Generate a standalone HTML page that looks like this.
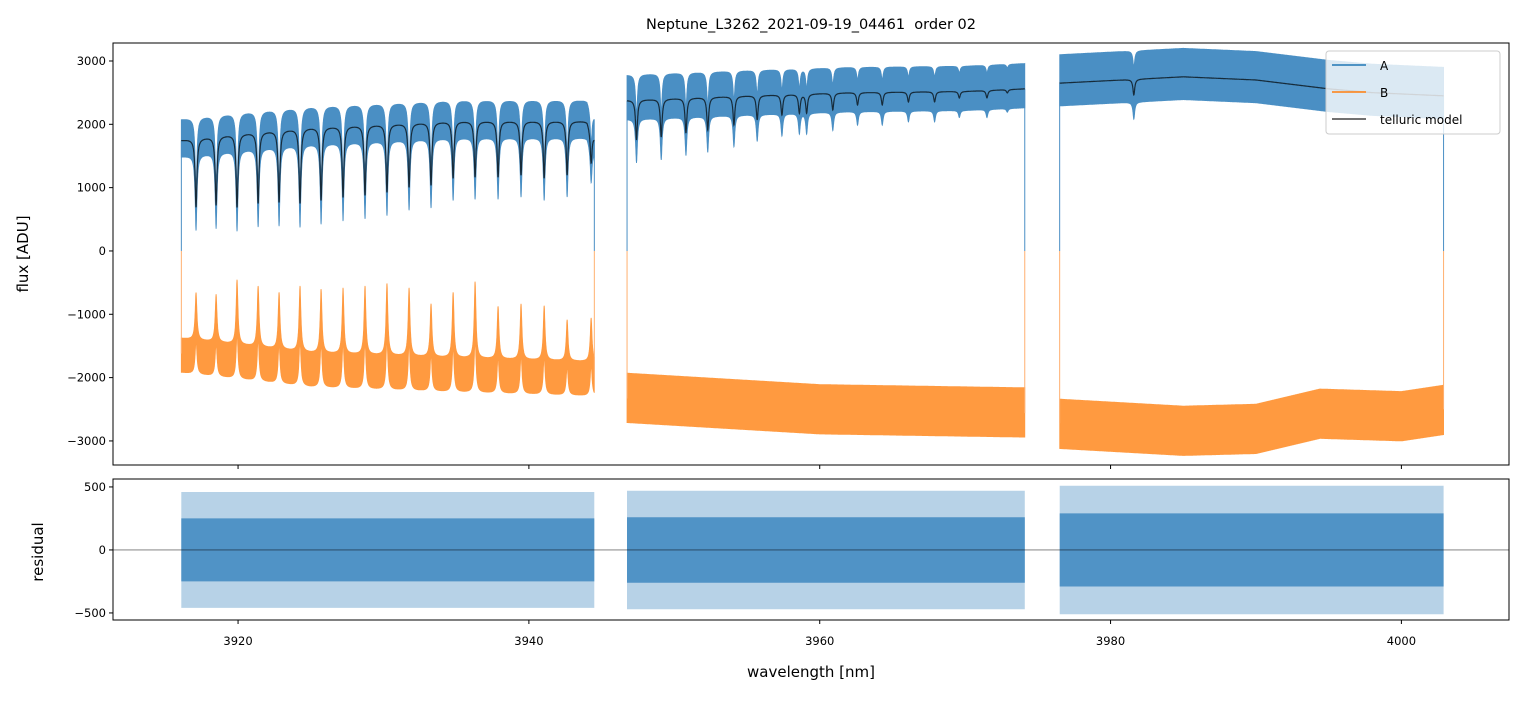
<!DOCTYPE html>
<html><head><meta charset="utf-8"><style>
body{margin:0;background:#fff;font-family:"Liberation Sans","DejaVu Sans",sans-serif}
svg text{font-family:"DejaVu Sans","Liberation Sans",sans-serif;fill:#000}
</style></head><body>
<svg id="chart" width="1523" height="696" viewBox="0 0 1523 696" xmlns="http://www.w3.org/2000/svg">
<rect width="1523" height="696" fill="#fff"/>
<g id="plot"></g>
</svg>
<script>
// ---- data ----
const segments = [[3916.1, 3944.5], [3946.75, 3974.1], [3976.5, 4002.9]];
const baseKnotsX = [[3916.1, 3920, 3925, 3930, 3935, 3944.0, 3944.5], [3946.75, 3955, 3962, 3970, 3974.1], [3976.5, 3985, 3990, 3995, 3998, 4002.9]];
const baseKnotsY = [[1750, 1850, 1950, 2000, 2050, 2050, 1800], [2380, 2450, 2500, 2520, 2560], [2650, 2750, 2700, 2560, 2500, 2450]];
const dipCenters = [
 [3917.11, 3918.49, 3919.93, 3921.38, 3922.82, 3924.26, 3925.71, 3927.22, 3928.73, 3930.24, 3931.76, 3933.27, 3934.79, 3936.30, 3937.88, 3939.46, 3941.05, 3942.63, 3944.28],
 [3947.4, 3949.1, 3950.8, 3952.3, 3954.1, 3955.7, 3957.4, 3958.6, 3959.1, 3960.9, 3962.6, 3964.3, 3966.1, 3967.9, 3969.6, 3971.5, 3972.9],
 [3981.6]
];
const dipMins = [
 [695, 727, 695, 758, 774, 758, 806, 853, 885, 932, 1011, 1043, 1153, 1169, 1169, 1200, 1153, 1200, 1390],
 [1754, 1801, 1864, 1911, 1991, 2070, 2148, 2180, 2180, 2228, 2306, 2306, 2354, 2354, 2417, 2417, 2496],
 [2464]
];
const aUpper = [330, 400, 450];
const aLower = [260, 300, 360];
const bKnotsX = [[3916.1, 3925, 3935, 3944.5], [3946.75, 3960, 3974.1], [3976.5, 3985, 3990, 3994.4, 4000, 4002.9]];
const bKnotsY = [[-1620, -1850, -1930, -1990], [-2330, -2510, -2560], [-2720, -2830, -2800, -2560, -2600, -2500]];
const bPeakTops = [-900, -930, -700, -800, -900, -800, -850, -830, -800, -760, -830, -1080, -900, -730, -1120, -1080, -1110, -1330, -1300];
const bUpper = [240, 400, 380];
const bLower = [300, 380, 400];
const residCore = [250, 260, 290];
const residOuter = [460, 470, 510];
const xTicks = [3920, 3940, 3960, 3980, 4000];
const yTicksTop = [3000, 2000, 1000, 0, -1000, -2000, -3000];
const yTicksBot = [500, 0, -500];

// ---- axes ----
const X0 = 113, X1 = 1509;
const xmin = 3911.4, xmax = 4007.4;
const T0 = 43, T1 = 465, tmax = 3284, tmin = -3380;
const B0 = 479, B1 = 620, bmax = 563, bmin = -556;
const sx = v => X0 + (v - xmin) / (xmax - xmin) * (X1 - X0);
const sy = v => T1 - (v - tmin) / (tmax - tmin) * (T1 - T0);
const sr = v => B1 - (v - bmin) / (bmax - bmin) * (B1 - B0);

const NS = 'http://www.w3.org/2000/svg';
const plot = document.getElementById('plot');
function mk(tag, attrs, parent) {
  const e = document.createElementNS(NS, tag);
  for (const k in attrs) e.setAttribute(k, attrs[k]);
  (parent || plot).appendChild(e);
  return e;
}
function interp(xs, ys, x) {
  if (x <= xs[0]) return ys[0];
  for (let i = 1; i < xs.length; i++) if (x <= xs[i]) { const t = (x - xs[i-1]) / (xs[i] - xs[i-1]); return ys[i-1] + t * (ys[i] - ys[i-1]); }
  return ys[ys.length - 1];
}
const G = 0.075;
const L = (x, c) => 1 / (1 + ((x - c) / G) ** 2);
function dipDepth(s, x) {
  let d = 0;
  dipCenters[s].forEach((c, i) => { const bc = interp(baseKnotsX[s], baseKnotsY[s], c); d += (bc - dipMins[s][i]) * L(x, c); });
  return d;
}
function model(s, x) { return interp(baseKnotsX[s], baseKnotsY[s], x) - dipDepth(s, x); }
function bBump(s, x) {
  if (s !== 0) return 0;
  let d = 0;
  dipCenters[0].forEach((c, i) => { const bc = interp(bKnotsX[0], bKnotsY[0], c); d += (bPeakTops[i] - bc) * L(x, c); });
  return d;
}
const STEP = 0.01;

const defs = mk('defs', {});
const cpT = mk('clipPath', { id: 'clipTop' }, defs); mk('rect', { x: X0, y: T0, width: X1 - X0, height: T1 - T0 }, cpT);
const cpB = mk('clipPath', { id: 'clipBot' }, defs); mk('rect', { x: X0, y: B0, width: X1 - X0, height: B1 - B0 }, cpB);
const gTop = mk('g', { 'clip-path': 'url(#clipTop)' });


const gBot = mk('g', { 'clip-path': 'url(#clipBot)' });



function bandPath(s, upFn, loFn, scale) {
  const [a, b] = segments[s];
  const up = [], lo = [];
  for (let x = a; x <= b + 1e-9; x += STEP) { up.push(sx(x).toFixed(1) + ',' + scale(upFn(x)).toFixed(1)); lo.push(sx(x).toFixed(1) + ',' + scale(loFn(x)).toFixed(1)); }
  return 'M' + up.join('L') + 'L' + lo.reverse().join('L') + 'Z';
}

segments.forEach((seg, s) => {
  const [a, b] = seg;
  const pa = mk('path', { d: bandPath(s, x => model(s, x) + aUpper[s] - 0.5 * dipDepth(s, x) * 0, x => model(s, x) - aLower[s] - 0.1 * dipDepth(s, x), sy), fill: '#4a8fc4', stroke: '#4a8fc4', 'stroke-width': 0.8 }, gTop);
  
  
  mk('line', { x1: sx(a), y1: sy(0), x2: sx(a), y2: sy(model(s, a)), stroke: '#4a8fc4', 'stroke-width': 1 }, gTop);
  mk('line', { x1: sx(b), y1: sy(0), x2: sx(b), y2: sy(model(s, b)), stroke: '#4a8fc4', 'stroke-width': 1 }, gTop);
  const bb = x => interp(bKnotsX[s], bKnotsY[s], x);
  const pb = mk('path', { d: bandPath(s, x => bb(x) + bUpper[s] + bBump(s, x), x => bb(x) - bLower[s] + 0.7 * bBump(s, x), sy), fill: '#ff9a40', stroke: '#ff9a40', 'stroke-width': 0.8 }, gTop);
  
  
  mk('line', { x1: sx(a), y1: sy(0), x2: sx(a), y2: sy(bb(a)), stroke: '#ffb070', 'stroke-width': 1 }, gTop);
  mk('line', { x1: sx(b), y1: sy(0), x2: sx(b), y2: sy(bb(b)), stroke: '#ffb070', 'stroke-width': 1 }, gTop);
  const pts = [];
  for (let x = a; x <= b + 1e-9; x += STEP) pts.push(sx(x).toFixed(1) + ',' + sy(model(s, x)).toFixed(1));
  const pm = mk('path', { d: 'M' + pts.join('L'), fill: 'none', stroke: 'rgba(0,0,0,0.7)', 'stroke-width': 1.2 }, gTop);
  
  
  const ro = mk('path', { d: bandPath(s, x => residOuter[s], x => -residOuter[s], sr), fill: '#4a8fc4', opacity: 0.4 }, gBot);
  
  
  const rc = mk('path', { d: bandPath(s, x => residCore[s], x => -residCore[s], sr), fill: '#4a8fc4', opacity: 0.95 }, gBot);
  
  
});
mk('line', { x1: X0, x2: X1, y1: sr(0), y2: sr(0), stroke: 'rgba(0,0,0,0.55)', 'stroke-width': 0.8 }, gBot);

const ft = mk('rect', { x: X0, y: T0, width: X1 - X0, height: T1 - T0, fill: 'none', stroke: '#000', 'stroke-width': 1 });
 
const fb = mk('rect', { x: X0, y: B0, width: X1 - X0, height: B1 - B0, fill: 'none', stroke: '#000', 'stroke-width': 1 });
 

xTicks.forEach(v => {
  mk('line', { x1: sx(v), x2: sx(v), y1: T1, y2: T1 + 4, stroke: '#000' });
  mk('line', { x1: sx(v), x2: sx(v), y1: B1, y2: B1 + 4, stroke: '#000' });
  const t = mk('text', { x: sx(v), y: B1 + 25, 'text-anchor': 'middle', 'font-size': 11.5 });
  t.textContent = v;
  
  
});
yTicksTop.forEach(v => {
  mk('line', { x1: X0 - 4, x2: X0, y1: sy(v), y2: sy(v), stroke: '#000' });
  const t = mk('text', { x: X0 - 7, y: sy(v) + 4, 'text-anchor': 'end', 'font-size': 11.5 });
  t.textContent = v < 0 ? '\u2212' + Math.abs(v) : v;
  
  
});
yTicksBot.forEach(v => {
  mk('line', { x1: X0 - 4, x2: X0, y1: sr(v), y2: sr(v), stroke: '#000' });
  const t = mk('text', { x: X0 - 7, y: sr(v) + 4, 'text-anchor': 'end', 'font-size': 11.5 });
  t.textContent = v < 0 ? '\u2212' + Math.abs(v) : v;
  
  
});
</script>
<svg style="position:absolute;left:0;top:0" width="1523" height="696">
<text x="811" y="29" text-anchor="middle" font-size="14.5" style="white-space:pre">Neptune_L3262_2021-09-19_04461  order 02</text>
<text x="0" y="0" transform="translate(28,254) rotate(-90)" text-anchor="middle" font-size="15">flux [ADU]</text>
<text x="0" y="0" transform="translate(43,552) rotate(-90)" text-anchor="middle" font-size="15">residual</text>
<text x="811" y="677" text-anchor="middle" font-size="15">wavelength [nm]</text>
<g>
<rect x="1326" y="51" width="174" height="83" rx="3" fill="rgba(255,255,255,0.8)" stroke="#ccc"/>
<line x1="1332" x2="1366" y1="65" y2="65" stroke="#1f77b4" stroke-width="1.5"/>
<text x="1380" y="70" font-size="12">A</text>
<line x1="1332" x2="1366" y1="92" y2="92" stroke="#ff7f0e" stroke-width="1.5"/>
<text x="1380" y="97" font-size="12">B</text>
<line x1="1332" x2="1366" y1="119" y2="119" stroke="#444" stroke-width="1.5"/>
<text x="1380" y="124" font-size="12">telluric model</text>
</g>
</svg>
</body></html>
